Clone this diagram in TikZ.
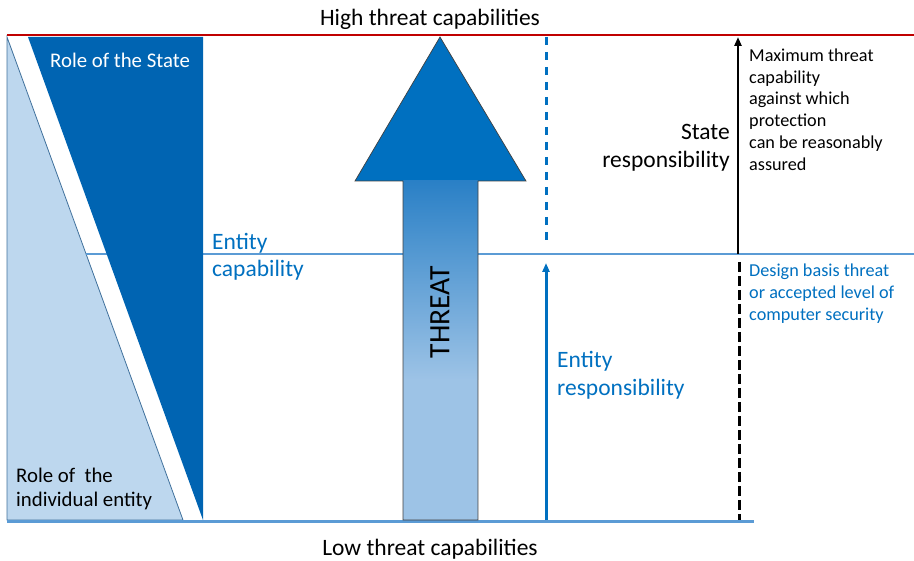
\documentclass[tikz,border=0pt]{standalone}
\usepackage{fontspec}
\setmainfont{Carlito}
\usetikzlibrary{arrows.meta}

\definecolor{stateblue}{RGB}{0,100,178}
\definecolor{threatblue}{RGB}{0,112,192}
\definecolor{shaftblue}{RGB}{42,128,198}
\definecolor{paleblue}{RGB}{157,195,230}
\definecolor{levelblue}{RGB}{91,155,213}
\definecolor{entitylight}{RGB}{189,215,238}
\definecolor{entityedge}{RGB}{65,113,156}
\definecolor{highred}{RGB}{192,0,0}

\begin{document}
\begin{tikzpicture}[x=1pt, y=-1pt,
			bigtext/.style = {inner sep=0pt, font=\fontsize{23.5}{28}\selectfont},
			note/.style = {inner sep=0pt, align=left, font=\fontsize{18.2}{21.8}\selectfont},
			role/.style = {inner sep=0pt, align=left, font=\fontsize{20.8}{24}\selectfont},
			levelline/.style = {line width=2pt, levelblue},
			respline/.style = {line width=3pt, threatblue},
			tip/.style = {-{Triangle[length=9pt, width=7pt]}}
		]
		\useasboundingbox (0,0) rectangle (914,561);

		% roles of the entity and of the State
		\filldraw[fill=entitylight, draw=entityedge, line width=0.8pt] (7,37) -- (183,520) -- (7,520) -- cycle;
		\draw[levelline] (86,254) -- (914,254);
		\fill[stateblue] (28,37) -- (203,37) -- (203,520) -- cycle;
		\draw[highred, line width=2.5pt] (7,35) -- (914,35);
		\draw[levelblue, line width=3pt] (7,521) -- (754,521);

		% the threat arrow
		\fill[threatblue] (355,181) -- (440,37) -- (526,181) -- cycle;
		\shade[top color=shaftblue, bottom color=paleblue] (403,181) rectangle (478,380);
		\fill[paleblue] (403,379.5) rectangle (478,520);
		\draw[black!75, line width=0.7pt] (403,520) -- (403,181) -- (355,181) -- (440,37)
			-- (526,181) -- (478,181) -- (478,520) -- cycle;
		\node[rotate=90, inner sep=0pt, font=\fontsize{29.6}{34}\selectfont] (threat) at (440,312) {THREAT};

		\coordinate (entitytop) at (546,37);
		\coordinate (entitycap) at (546,245);
		\coordinate (entitytip) at (546,263);
		\coordinate (entitybase) at (546,520);
		\coordinate (statebase) at (738,254);
		\coordinate (statetop) at (738,37);
		\coordinate (dbttop) at (739,262);
		\coordinate (dbtbase) at (739,520);

		\draw[respline, dash pattern=on 8pt off 7pt] (entitytop) -- (entitycap);
		\draw[respline, tip] (entitybase) -- (entitytip);
		\draw[line width=2.5pt, tip] (statebase) -- (statetop);
		\draw[line width=3pt, dash pattern=on 10pt off 4pt] (dbttop) -- (dbtbase);

		\node[bigtext] (high) at (430,19) {High threat capabilities};
		\node[bigtext] (low) at (430,549) {Low threat capabilities};
		\node[role, white, anchor=west] (staterole) at (50,60) {Role of the State};
		\node[role, anchor=west] (entityrole) at (16,489) {Role of\ \ the\\individual entity};
		\node[bigtext, threatblue, align=left, anchor=west, font=\fontsize{23.5}{27}\selectfont] (entcap) at (212,256.5) {Entity\\capability};
		\node[bigtext, align=right, anchor=east] (stateresp) at (730,147.5) {State\\responsibility};
		\node[bigtext, threatblue, align=left, anchor=west] (entresp) at (557,375.5) {Entity\\responsibility};
		\node[note, anchor=west] (maxthreat) at (749,109.5) {Maximum threat\\capability\\against which\\protection\\can be reasonably\\assured};
		\node[note, threatblue, anchor=west] (dbt) at (749,293.5) {Design basis threat\\or accepted level of\\computer security};
	\end{tikzpicture}
\end{document}
